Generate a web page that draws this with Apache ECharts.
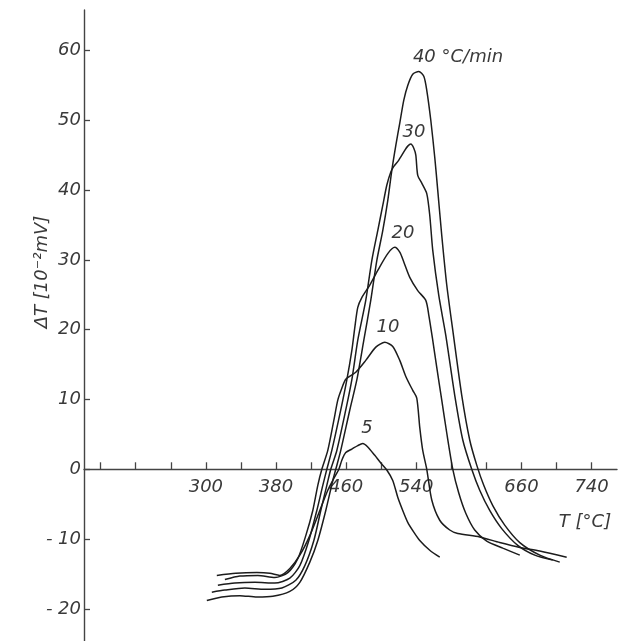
<!DOCTYPE html>
<html><head><meta charset="utf-8">
<script src="https://cdn.jsdelivr.net/npm/echarts@6/dist/echarts.min.js"></script>
<style>html,body{margin:0;padding:0;background:#fff}#c{width:620px;height:641px}</style>
</head><body><div id="c"></div>
<script>
// Heating-rate curves: T [°C] and ΔT [10^-2 mV]
const T5  = [312.5,334.2,358.2,373.0,384.4,395.8,407.2,418.6,430.0,439.1,446.0,451.7,455.1,459.6,466.5,473.3,479.0,484.7,492.7,499.6,506.4,513.2,518.9,524.6,530.3,537.2,544.0,555.4,566.8];
const dT5 = [-15.2,-14.9,-14.8,-14.9,-15.2,-14.2,-12.3,-9.5,-5.9,-3.0,-1.3,0,1.3,2.4,2.9,3.4,3.7,3.2,2.0,0.9,-0.1,-1.6,-4.0,-5.9,-7.6,-9.0,-10.2,-11.6,-12.6];

const T10  = [321.7,338.8,359.3,378.7,393.5,404.9,414.0,422.0,427.7,432.3,439.1,446.0,450.5,455.1,459.6,471.0,482.4,493.9,504.1,513.2,521.2,528.1,536.0,540.6,544.0,547.4,552.0,557.7,566.8,578.2,587.4,612.4,635.2,658.1,680.9,711.6];
const dT10 = [-15.8,-15.3,-15.2,-15.5,-14.8,-12.8,-9.5,-5.9,-2.3,0,2.7,7.0,9.9,11.6,12.9,13.9,15.6,17.5,18.2,17.6,15.6,13.3,11.3,10.2,6.0,2.7,0,-4.4,-7.3,-8.7,-9.2,-9.7,-10.5,-11.2,-11.7,-12.6];

const T20  = [313.7,333.1,355.9,378.7,395.8,407.2,417.5,426.6,433.4,438.0,443.7,453.9,460.8,466.5,469.9,473.3,477.9,487.0,496.1,507.5,515.5,521.2,525.8,532.6,541.7,550.9,554.3,558.8,563.4,569.1,574.8,581.7,588.5,596.5,606.7,620.4,638.7,658.1];
const dT20 = [-16.6,-16.3,-16.2,-16.3,-15.6,-13.8,-10.2,-5.9,-2.3,0,2.7,8.5,12.8,17.0,20.3,23.2,24.6,26.4,28.5,30.9,31.8,31.1,29.7,27.5,25.6,24.2,22.1,18.5,14.6,9.9,5.2,0,-3.4,-6.3,-8.7,-10.3,-11.3,-12.3];

const T30  = [306.8,321.7,344.5,367.3,386.7,402.6,412.9,423.2,431.1,438.0,442.5,449.4,459.6,466.5,473.3,482.4,489.3,496.1,501.8,506.4,511.0,514.4,520.1,526.9,530.3,533.8,537.2,539.5,541.7,546.3,552.0,555.4,558.8,565.7,573.7,583.9,593.1,603.3,612.4,623.8,637.5,655.8,675.2,695.7];
const dT30 = [-17.6,-17.3,-17.0,-17.2,-17.0,-15.9,-13.8,-10.2,-5.9,-2.3,0,2.7,8.5,12.8,18.5,24.2,29.9,34.2,37.8,40.7,42.6,43.4,44.3,45.7,46.3,46.6,46.0,45.0,42.1,41.0,39.5,36.4,31.4,24.9,19.2,10.6,4.2,0,-3.0,-5.9,-8.5,-10.9,-12.3,-13.0];

const T40  = [301.1,318.2,338.8,358.2,376.4,395.8,407.2,418.6,427.7,436.8,444.8,448.2,453.9,464.2,472.2,480.2,488.1,495.0,501.8,507.5,512.1,516.7,521.2,525.8,530.3,536.0,542.9,548.6,552.0,556.6,561.1,564.5,569.1,574.8,581.7,591.9,601.0,609.0,617.0,627.3,640.9,658.1,680.9,703.7];
const dT40 = [-18.8,-18.3,-18.1,-18.3,-18.2,-17.5,-16.2,-13.3,-10.2,-5.9,-1.6,0,2.7,8.5,12.8,18.5,24.2,29.9,34.2,38.5,42.8,46.4,49.6,52.9,55.0,56.6,57.0,56.3,54.3,50.0,44.7,40.0,33.5,26.4,19.9,10.6,4.2,0.6,-2.3,-5.2,-8.0,-10.5,-12.3,-13.3];

const curveNames = ['5','10','20','30','40 °C/min'];
const xTicks = [180,220,260,300,340,380,420,460,500,540,580,620,660,700,740];
const xTickLabels = [300,380,460,540,660,740];
const yTicks = [-20,-10,0,10,20,30,40,50,60];

const zip = (a,b) => a.map((v,i)=>[v,b[i]]);
const curves = [zip(T5,dT5), zip(T10,dT10), zip(T20,dT20), zip(T30,dT30), zip(T40,dT40)];

const FONT = 'DejaVu Sans';
const TXT = '#3a3a3a';
const X_MIN = 161, X_MAX = 769, Y_MIN = -24.6, Y_MAX = 65.8;
const chart = echarts.init(document.getElementById('c'), null, {renderer:'canvas'});
const txt = (x,y,s,extra) => Object.assign({type:'text', x:x, y:y, style:{text:s, fill:TXT, font:'italic 18px "'+FONT+'"', align:'center', verticalAlign:'middle'}}, extra||{});

chart.setOption({
  animation:false,
  backgroundColor:'#fff',
  grid:[
    {left:84, top:10, width:533, height:631, outerBoundsMode:'none', containLabel:false},
    // upper grid whose bottom edge sits exactly on ΔT = 0, used to draw the T axis there
    {left:84, top:10, width:533, height:631*Y_MAX/(Y_MAX-Y_MIN), outerBoundsMode:'none', containLabel:false}
  ],
  xAxis:[
    {type:'value', gridIndex:0, min:X_MIN, max:X_MAX, show:false},
    {type:'value', gridIndex:1, min:X_MIN, max:X_MAX, position:'bottom',
      axisLine:{show:true, onZero:false, lineStyle:{color:'#444', width:1.4}},
      axisTick:{show:true, inside:true, length:7, customValues:xTicks, lineStyle:{color:'#444', width:1.3}},
      axisLabel:{customValues:xTickLabels, fontStyle:'italic', fontFamily:FONT, fontSize:18, color:TXT, margin:9},
      splitLine:{show:false}}
  ],
  yAxis:[
    {type:'value', gridIndex:0, min:Y_MIN, max:Y_MAX,
      axisLine:{show:true, lineStyle:{color:'#444', width:1.4}},
      axisTick:{show:true, inside:true, length:6, customValues:yTicks, lineStyle:{color:'#444', width:1.3}},
      axisLabel:{customValues:yTicks, fontStyle:'italic', fontFamily:FONT, fontSize:18, color:TXT, margin:3,
        formatter:v => v<0 ? '- '+(-v) : String(v)},
      splitLine:{show:false}},
    {type:'value', gridIndex:1, min:0, max:Y_MAX, show:false}
  ],
  series: curves.map((d,i)=>({name:curveNames[i], type:'line', xAxisIndex:0, yAxisIndex:0, data:d, showSymbol:false, smooth:0.25,
    lineStyle:{color:'#1c1c1c', width:1.5}, z:2})),
  graphic:[
    txt(458,57,'40 °C/min'),
    txt(414,132,'30'),
    txt(403,233,'20'),
    txt(388,327,'10'),
    txt(367,428,'5'),
    txt(585,522,'T [°C]'),
    txt(42,272,'ΔT [10⁻²mV]',{rotation:Math.PI/2})
  ]
});
</script></body></html>
